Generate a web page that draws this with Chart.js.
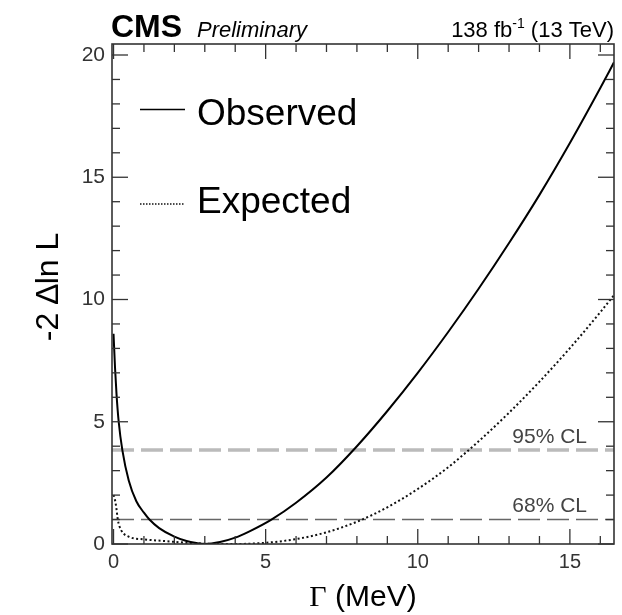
<!DOCTYPE html>
<html>
<head>
<meta charset="utf-8">
<script src="https://cdn.jsdelivr.net/npm/chart.js@4.4.1/dist/chart.umd.min.js"></script>
<style>
  html, body { margin: 0; padding: 0; background: #fff; }
  #wrap { width: 622px; height: 615px; }
</style>
</head>
<body>
<div id="wrap"><canvas id="likelihoodChart" width="622" height="615"></canvas></div>
<script>
// observed scan
const obsGamma = [0, 0.05, 0.1, 0.17, 0.29, 0.5, 0.75, 1.0, 1.18, 1.5, 2.0, 2.4, 2.72, 3.0, 3.5, 4.0, 4.47, 5.19, 6.0, 7.0, 8.0, 9.0, 10.0, 11.0, 12.0, 13.0, 14.0, 15.0, 16.0, 16.45];
const obsNll = [8.6, 7.2, 6.1, 5.0, 3.84, 2.6, 1.75, 1.28, 1.0, 0.65, 0.3, 0.12, 0.04, 0.0, 0.08, 0.26, 0.52, 1.0, 1.69, 2.72, 4.0, 5.44, 7.0, 8.67, 10.44, 12.31, 14.28, 16.4, 18.65, 19.7];

// expected scan
const expGamma = [0, 0.03, 0.09, 0.14, 0.25, 0.5, 1.0, 1.7, 2.4, 3.0, 3.5, 4.0, 5.0, 6.0, 7.0, 8.0, 9.0, 10.0, 11.0, 12.0, 13.0, 14.0, 15.0, 16.0, 16.45];
const expNll = [2.0, 1.9, 1.5, 1.0, 0.57, 0.3, 0.19, 0.12, 0.05, 0.01, 0.0, 0.0, 0.05, 0.2, 0.48, 0.91, 1.5, 2.25, 3.14, 4.2, 5.37, 6.64, 8.01, 9.48, 10.18];

// confidence levels
const clLevels = [1.0, 3.84];
const clLabels = ["68% CL", "95% CL"];

// axes
const xRange = [-0.05, 16.45];
const yRange = [0, 20.45];
const xTicks = [0, 5, 10, 15];
const yTicks = [0, 5, 10, 15, 20];
const minorStep = 1;

const FONT = "'Liberation Sans', Arial, sans-serif";

function toPoints(xs, ys) {
  return xs.map((v, i) => ({ x: v, y: ys[i] }));
}

function hline(level) {
  return [{ x: xRange[0], y: level }, { x: xRange[1], y: level }];
}

function line(ctx, x1, y1, x2, y2) {
  ctx.beginPath();
  ctx.moveTo(x1, y1);
  ctx.lineTo(x2, y2);
  ctx.stroke();
}

const decorations = {
  id: "decorations",
  afterDatasetsDraw(chart) {
    const ctx = chart.ctx;
    const a = chart.chartArea;
    const x = chart.scales.x;
    const y = chart.scales.y;
    ctx.save();

    // CL labels
    ctx.fillStyle = "#444";
    ctx.font = "21px " + FONT;
    ctx.textAlign = "right";
    ctx.textBaseline = "alphabetic";
    clLevels.forEach((lvl, i) => {
      ctx.fillText(clLabels[i], a.right - 27, y.getPixelForValue(lvl) - 7.5);
    });

    // inner ticks on all four sides
    ctx.strokeStyle = "#333";
    ctx.lineWidth = 1.3;
    for (let v = Math.ceil(xRange[0]); v <= xRange[1]; v += minorStep) {
      const px = x.getPixelForValue(v);
      const len = xTicks.includes(v) ? 15 : 8;
      line(ctx, px, a.bottom, px, a.bottom - len);
      line(ctx, px, a.top, px, a.top + len);
    }
    for (let v = Math.ceil(yRange[0]); v <= yRange[1]; v += minorStep) {
      const py = y.getPixelForValue(v);
      const len = yTicks.includes(v) ? 16 : 8;
      line(ctx, a.left, py, a.left + len, py);
      line(ctx, a.right, py, a.right - len, py);
    }

    // frame
    ctx.lineWidth = 1.6;
    ctx.strokeRect(a.left, a.top, a.right - a.left, a.bottom - a.top);

    // legend
    const ds = chart.data.datasets;
    const legendRows = [{ d: ds[0], ly: 109.5, ty: 125 }, { d: ds[1], ly: 204, ty: 213 }];
    legendRows.forEach(r => {
      ctx.strokeStyle = r.d.borderColor;
      ctx.lineWidth = 1.5;
      ctx.setLineDash(r.d.borderDash ? [1.5, 1.5] : []);
      line(ctx, a.left + 28, r.ly, a.left + 73, r.ly);
      ctx.setLineDash([]);
      ctx.fillStyle = "#000";
      ctx.font = "37px " + FONT;
      ctx.textAlign = "left";
      ctx.fillText(r.d.label, a.left + 85, r.ty);
    });

    // header
    ctx.fillStyle = "#000";
    ctx.textAlign = "left";
    ctx.font = "bold 32px " + FONT;
    ctx.fillText("CMS", 111, 37);
    ctx.font = "italic 22px " + FONT;
    ctx.fillText("Preliminary", 197, 37);

    const p1 = "138 fb", sup = "-1", p2 = " (13 TeV)";
    ctx.font = "22px " + FONT;
    const w1 = ctx.measureText(p1).width;
    const w3 = ctx.measureText(p2).width;
    ctx.font = "14px " + FONT;
    const w2 = ctx.measureText(sup).width;
    const hx = a.right - (w1 + w2 + w3);
    ctx.font = "22px " + FONT;
    ctx.fillText(p1, hx, 37);
    ctx.font = "14px " + FONT;
    ctx.fillText(sup, hx + w1, 28);
    ctx.font = "22px " + FONT;
    ctx.fillText(p2, hx + w1 + w2, 37);

    // x title: Γ (MeV)
    const g = "Γ", rest = " (MeV)";
    ctx.font = "30px 'Liberation Serif', serif";
    const wg = ctx.measureText(g).width;
    ctx.font = "30px " + FONT;
    const wr = ctx.measureText(rest).width;
    const cx = (a.left + a.right) / 2;
    const tx = cx - (wg + wr) / 2;
    ctx.font = "30px 'Liberation Serif', serif";
    ctx.fillText(g, tx, 606);
    ctx.font = "30px " + FONT;
    ctx.fillText(rest, tx + wg, 606);

    // y title
    ctx.save();
    ctx.translate(58, 287);
    ctx.rotate(-Math.PI / 2);
    ctx.textAlign = "center";
    ctx.font = "32px " + FONT;
    ctx.fillText("-2 \u2206ln L", 0, 0);
    ctx.restore();

    ctx.restore();
  }
};

new Chart(document.getElementById("likelihoodChart"), {
  type: "scatter",
  data: {
    datasets: [
      {
        label: "Observed",
        data: toPoints(obsGamma, obsNll),
        showLine: true,
        borderColor: "#000",
        borderWidth: 2,
        pointRadius: 0,
        cubicInterpolationMode: "monotone",
        order: 0
      },
      {
        label: "Expected",
        data: toPoints(expGamma, expNll),
        showLine: true,
        borderColor: "#111",
        borderWidth: 2,
        borderDash: [2, 2.5],
        pointRadius: 0,
        cubicInterpolationMode: "monotone",
        order: 1
      },
      {
        label: clLabels[0],
        data: hline(clLevels[0]),
        showLine: true,
        borderColor: "#666",
        borderWidth: 1.6,
        borderDash: [22, 7],
        pointRadius: 0,
        order: 2
      },
      {
        label: clLabels[1],
        data: hline(clLevels[1]),
        showLine: true,
        borderColor: "#bbb",
        borderWidth: 3.5,
        borderDash: [22, 7],
        pointRadius: 0,
        order: 3
      }
    ]
  },
  options: {
    responsive: false,
    animation: false,
    layout: { padding: { left: 0, right: 8, top: 44, bottom: 0 } },
    plugins: {
      legend: { display: false },
      tooltip: { enabled: false }
    },
    scales: {
      x: {
        type: "linear",
        min: xRange[0],
        max: xRange[1],
        afterBuildTicks: s => { s.ticks = xTicks.map(v => ({ value: v })); },
        afterFit: s => { s.height = 71; },
        grid: { display: false, drawTicks: false },
        border: { display: false },
        ticks: {
          padding: 6,
          color: "#333",
          font: { family: FONT, size: 20 },
          maxRotation: 0
        }
      },
      y: {
        type: "linear",
        min: yRange[0],
        max: yRange[1],
        afterBuildTicks: s => { s.ticks = yTicks.map(v => ({ value: v })); },
        afterFit: s => { s.width = 112; },
        grid: { display: false, drawTicks: false },
        border: { display: false },
        ticks: {
          padding: 7,
          color: "#333",
          font: { family: FONT, size: 21 }
        }
      }
    }
  },
  plugins: [decorations]
});
</script>
</body>
</html>
